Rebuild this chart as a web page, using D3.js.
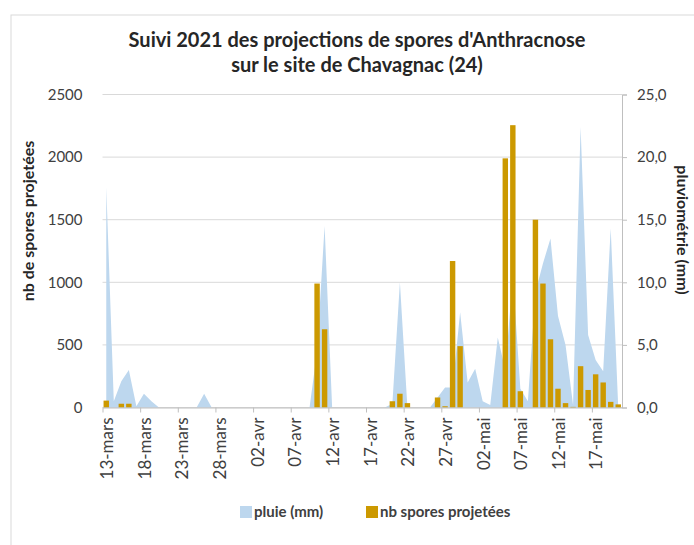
<!DOCTYPE html>
<html>
<head>
<meta charset="utf-8">
<script src="https://cdn.jsdelivr.net/npm/d3@7"></script>
<style>
  body { margin: 0; background: #fff; }
  text { font-family: Lato, "Open Sans", sans-serif; }
</style>
</head>
<body>
<script>
// one value per day, from 13-mars to 20-mai
var pluie = [
  17.6, 0.5, 2.1, 3.0, 0.1, 1.1, 0.5, 0, 0, 0,
  0, 0, 0, 1.1, 0, 0, 0, 0, 0, 0,
  0, 0, 0, 0, 0, 0, 0, 0, 4.5, 14.5,
  0, 0, 0, 0, 0, 0, 0, 0, 0.3, 10.0,
  0, 0, 0, 0, 0.8, 1.6, 1.6, 7.6, 2.0, 3.1,
  0.5, 0.2, 5.6, 3.0, 10.5, 1.5, 0.5, 9.2, 11.5, 13.5,
  7.3, 5.0, 0.2, 22.4, 5.8, 3.8, 2.9, 14.3, 0
];
var spores = [
  55, 0, 30, 30, 0, 0, 0, 0, 0, 0,
  0, 0, 0, 0, 0, 0, 0, 0, 0, 0,
  0, 0, 0, 0, 0, 0, 0, 0, 990, 625,
  0, 0, 0, 0, 0, 0, 0, 0, 50, 110,
  35, 0, 0, 0, 80, 10, 1170, 490, 0, 0,
  0, 0, 0, 1990, 2255, 130, 0, 1500, 990, 545,
  150, 35, 5, 330, 140, 265, 200, 45, 25
];
var tickLabels = ["13-mars", "18-mars", "23-mars", "28-mars", "02-avr", "07-avr", "12-avr",
                  "17-avr", "22-avr", "27-avr", "02-mai", "07-mai", "12-mai", "17-mai"];
var sporesTicks = [0, 500, 1000, 1500, 2000, 2500];
var pluieTicks = [0, 5, 10, 15, 20, 25];

var W = 694, H = 545;
var plotL = 102.5, plotR = 622, plotT = 94.5, plotB = 407.5;

var svg = d3.select("body").append("svg")
  .attr("width", W)
  .attr("height", H);

// chart frame
svg.append("rect")
  .attr("x", 11).attr("y", 15)
  .attr("width", 720).attr("height", 600)
  .style("fill", "none")
  .style("stroke", "#d9d9d9");

var x = d3.scaleBand().domain(d3.range(pluie.length)).range([plotL, plotR]);
var xi = d3.scaleLinear().domain([0, pluie.length]).range([plotL, plotR]);
var yL = d3.scaleLinear().domain([0, 2500]).range([plotB, plotT]);
var yR = d3.scaleLinear().domain([0, 25]).range([plotB, plotT]);
var fr = d3.formatLocale({decimal: ",", thousands: " ", grouping: [3], currency: ["", ""]}).format(".1f");

// gridlines
svg.append("g").selectAll("line")
  .data(sporesTicks)
  .join("line")
  .attr("x1", plotL).attr("x2", plotR)
  .attr("y1", d => yL(d)).attr("y2", d => yL(d))
  .style("stroke", "#d9d9d9")
  .style("stroke-width", 1);

// rain area
var area = d3.area()
  .x((d, i) => x(i) + x.bandwidth() / 2)
  .y0(yR(0))
  .y1(d => yR(d));

svg.append("path")
  .datum(pluie)
  .attr("d", area)
  .style("fill", "#bdd7ee");

// spore bars
var barW = x.bandwidth() * 0.72;
svg.append("g").selectAll("rect")
  .data(spores)
  .join("rect")
  .attr("x", (d, i) => x(i) + (x.bandwidth() - barW) / 2)
  .attr("y", d => yL(d))
  .attr("width", barW)
  .attr("height", d => plotB - yL(d))
  .style("fill", "#cc9900");

// left axis
var gL = svg.append("g")
  .attr("transform", "translate(" + plotL + ",0)")
  .call(d3.axisLeft(yL).tickValues(sporesTicks).tickSize(0).tickPadding(20).tickFormat(d3.format("d")));
gL.select(".domain").remove();
gL.selectAll("text")
  .style("font-size", "15px")
  .style("fill", "#404040");

// right axis
var gR = svg.append("g")
  .attr("transform", "translate(" + plotR + ",0)")
  .call(d3.axisRight(yR).tickValues(pluieTicks).tickSize(5).tickPadding(10).tickFormat(fr));
gR.select(".domain").style("stroke", "#bfbfbf");
gR.selectAll("line").style("stroke", "#bfbfbf");
gR.selectAll("text")
  .style("font-size", "15px")
  .style("fill", "#404040");

// bottom axis: tick marks between days, labels under each 5th day
var gB = svg.append("g")
  .attr("transform", "translate(0," + plotB + ")")
  .call(d3.axisBottom(xi).tickValues(d3.range(0, pluie.length, 5)).tickSize(5).tickSizeOuter(0).tickFormat(""));
gB.select(".domain").style("stroke", "#bfbfbf");
gB.selectAll("line").style("stroke", "#bfbfbf");

var gBL = svg.append("g")
  .attr("transform", "translate(0," + plotB + ")")
  .call(d3.axisBottom(x).tickValues(d3.range(0, pluie.length, 5)).tickSize(0)
    .tickFormat((d, k) => tickLabels[k]));
gBL.select(".domain").remove();
gBL.selectAll("text")
  .attr("transform", "rotate(-90)")
  .attr("x", -10)
  .attr("y", 0)
  .attr("dy", "0.4em")
  .style("text-anchor", "end")
  .style("font-size", "17px")
  .style("fill", "#404040");

// title
var title = svg.append("text")
  .attr("x", 357)
  .attr("y", 47)
  .style("text-anchor", "middle")
  .style("font-size", "20px")
  .style("font-weight", "bold")
  .style("fill", "#262626");
title.append("tspan").attr("x", 357).text("Suivi 2021 des projections de spores d'Anthracnose");
title.append("tspan").attr("x", 357).attr("dy", 25).text("sur le site de Chavagnac (24)");

// axis titles
svg.append("text")
  .attr("transform", "translate(34,221) rotate(-90)")
  .style("text-anchor", "middle")
  .style("font-size", "16px")
  .style("font-weight", "bold")
  .style("fill", "#262626")
  .text("nb de spores projetées");

svg.append("text")
  .attr("transform", "translate(677,230) rotate(90)")
  .style("text-anchor", "middle")
  .style("font-size", "16px")
  .style("font-weight", "bold")
  .style("fill", "#262626")
  .text("pluviométrie (mm)");

// legend
var legend = [
  {name: "pluie (mm)", color: "#bdd7ee", x: 240},
  {name: "nb spores projetées", color: "#cc9900", x: 366}
];
var lg = svg.append("g").selectAll("g")
  .data(legend)
  .join("g")
  .attr("transform", d => "translate(" + d.x + ",506)");
lg.append("rect")
  .attr("width", 12).attr("height", 12)
  .style("fill", d => d.color);
lg.append("text")
  .attr("x", 14).attr("y", 11)
  .style("font-size", "15px")
  .style("font-weight", "bold")
  .style("fill", "#404040")
  .text(d => d.name);
</script>
</body>
</html>
